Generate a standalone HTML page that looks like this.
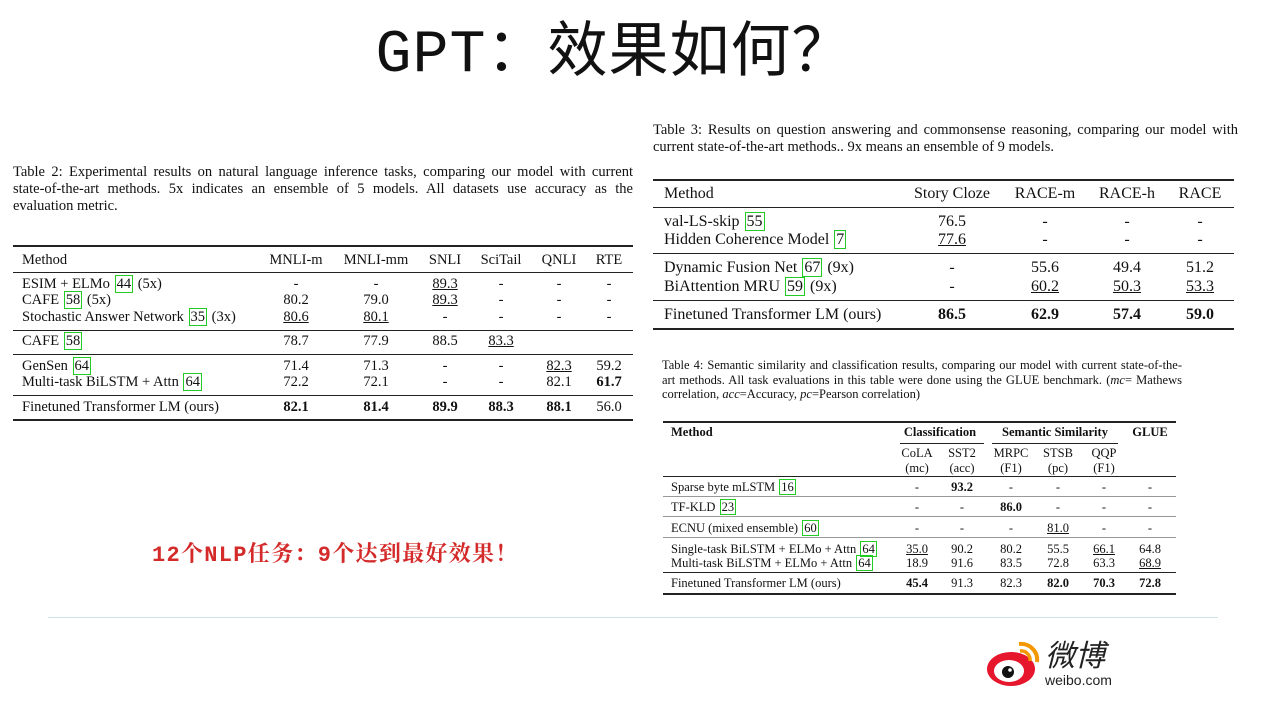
<!DOCTYPE html>
<html><head><meta charset="utf-8"><style>
body{margin:0;width:1268px;height:714px;background:#fff;position:relative;overflow:hidden;font-family:"Liberation Serif",serif;color:#111}
.t{position:absolute;white-space:nowrap;line-height:1}
.c{transform:translateX(-50%)}
.r{border:1px solid #2c2;padding:0 1px;margin:0 1px}
.rule{position:absolute;background:#222}
.s2{font-size:14.5px}.s3{font-size:16px}.s4{font-size:12.5px}
.j{text-align:justify;text-align-last:justify;white-space:nowrap}
b{font-weight:bold}
u{text-decoration:underline}
</style></head><body>
<div class="t c" style="left:614px;top:26px;font-size:60px;font-family:'Liberation Mono','Noto Sans CJK SC',monospace;letter-spacing:1px">GPT：效果如何？</div>

<!-- Table 2 -->
<div>
<div class="t s2" style="left:13px;top:164px;line-height:17px;width:620px;white-space:normal">
<div class="j">Table 2: Experimental results on natural language inference tasks, comparing our model with current</div>
<div class="j">state-of-the-art methods. 5x indicates an ensemble of 5 models. All datasets use accuracy as the</div>
<div>evaluation metric.</div></div>
<div class="rule" style="left:13px;top:245px;width:620px;height:2px"></div>
<div class="rule" style="left:13px;top:272px;width:620px;height:1px"></div>
<div class="rule" style="left:13px;top:330px;width:620px;height:1px"></div>
<div class="rule" style="left:13px;top:354px;width:620px;height:1px"></div>
<div class="rule" style="left:13px;top:395px;width:620px;height:1px"></div>
<div class="rule" style="left:13px;top:419px;width:620px;height:2px"></div>
<div class="t s2" style="left:22px;top:253px">Method</div>
<div class="t s2 c" style="left:296px;top:253px">MNLI-m</div>
<div class="t s2 c" style="left:376px;top:253px">MNLI-mm</div>
<div class="t s2 c" style="left:445px;top:253px">SNLI</div>
<div class="t s2 c" style="left:501px;top:253px">SciTail</div>
<div class="t s2 c" style="left:559px;top:253px">QNLI</div>
<div class="t s2 c" style="left:609px;top:253px">RTE</div>

<div class="t s2" style="left:22px;top:277px">ESIM + ELMo <span class="r">44</span> (5x)</div>
<div class="t s2 c" style="left:296px;top:277px">-</div><div class="t s2 c" style="left:376px;top:277px">-</div><div class="t s2 c" style="left:445px;top:277px"><u>89.3</u></div><div class="t s2 c" style="left:501px;top:277px">-</div><div class="t s2 c" style="left:559px;top:277px">-</div><div class="t s2 c" style="left:609px;top:277px">-</div>
<div class="t s2" style="left:22px;top:293px">CAFE <span class="r">58</span> (5x)</div>
<div class="t s2 c" style="left:296px;top:293px">80.2</div><div class="t s2 c" style="left:376px;top:293px">79.0</div><div class="t s2 c" style="left:445px;top:293px"><u>89.3</u></div><div class="t s2 c" style="left:501px;top:293px">-</div><div class="t s2 c" style="left:559px;top:293px">-</div><div class="t s2 c" style="left:609px;top:293px">-</div>
<div class="t s2" style="left:22px;top:310px">Stochastic Answer Network <span class="r">35</span> (3x)</div>
<div class="t s2 c" style="left:296px;top:310px"><u>80.6</u></div><div class="t s2 c" style="left:376px;top:310px"><u>80.1</u></div><div class="t s2 c" style="left:445px;top:310px">-</div><div class="t s2 c" style="left:501px;top:310px">-</div><div class="t s2 c" style="left:559px;top:310px">-</div><div class="t s2 c" style="left:609px;top:310px">-</div>
<div class="t s2" style="left:22px;top:334px">CAFE <span class="r">58</span></div>
<div class="t s2 c" style="left:296px;top:334px">78.7</div><div class="t s2 c" style="left:376px;top:334px">77.9</div><div class="t s2 c" style="left:445px;top:334px">88.5</div><div class="t s2 c" style="left:501px;top:334px"><u>83.3</u></div>
<div class="t s2" style="left:22px;top:359px">GenSen <span class="r">64</span></div>
<div class="t s2 c" style="left:296px;top:359px">71.4</div><div class="t s2 c" style="left:376px;top:359px">71.3</div><div class="t s2 c" style="left:445px;top:359px">-</div><div class="t s2 c" style="left:501px;top:359px">-</div><div class="t s2 c" style="left:559px;top:359px"><u>82.3</u></div><div class="t s2 c" style="left:609px;top:359px">59.2</div>
<div class="t s2" style="left:22px;top:375px">Multi-task BiLSTM + Attn <span class="r">64</span></div>
<div class="t s2 c" style="left:296px;top:375px">72.2</div><div class="t s2 c" style="left:376px;top:375px">72.1</div><div class="t s2 c" style="left:445px;top:375px">-</div><div class="t s2 c" style="left:501px;top:375px">-</div><div class="t s2 c" style="left:559px;top:375px">82.1</div><div class="t s2 c" style="left:609px;top:375px"><b>61.7</b></div>
<div class="t s2" style="left:22px;top:400px">Finetuned Transformer LM (ours)</div>
<div class="t s2 c" style="left:296px;top:400px"><b>82.1</b></div><div class="t s2 c" style="left:376px;top:400px"><b>81.4</b></div><div class="t s2 c" style="left:445px;top:400px"><b>89.9</b></div><div class="t s2 c" style="left:501px;top:400px"><b>88.3</b></div><div class="t s2 c" style="left:559px;top:400px"><b>88.1</b></div><div class="t s2 c" style="left:609px;top:400px">56.0</div>
</div>

<!-- Table 3 -->
<div>
<div class="t s2" style="left:653px;top:122px;line-height:17px;width:585px;white-space:normal">
<div class="j">Table 3: Results on question answering and commonsense reasoning, comparing our model with</div>
<div>current state-of-the-art methods.. 9x means an ensemble of 9 models.</div></div>
<div class="rule" style="left:653px;top:179px;width:581px;height:2px"></div>
<div class="rule" style="left:653px;top:207px;width:581px;height:1px"></div>
<div class="rule" style="left:653px;top:253px;width:581px;height:1px"></div>
<div class="rule" style="left:653px;top:300px;width:581px;height:1px"></div>
<div class="rule" style="left:653px;top:328px;width:581px;height:2px"></div>
<div class="t s3" style="left:664px;top:186px">Method</div>
<div class="t s3 c" style="left:952px;top:186px">Story Cloze</div>
<div class="t s3 c" style="left:1045px;top:186px">RACE-m</div>
<div class="t s3 c" style="left:1127px;top:186px">RACE-h</div>
<div class="t s3 c" style="left:1200px;top:186px">RACE</div>
<div class="t s3" style="left:664px;top:214px">val-LS-skip <span class="r">55</span></div>
<div class="t s3 c" style="left:952px;top:214px">76.5</div><div class="t s3 c" style="left:1045px;top:214px">-</div><div class="t s3 c" style="left:1127px;top:214px">-</div><div class="t s3 c" style="left:1200px;top:214px">-</div>
<div class="t s3" style="left:664px;top:232px">Hidden Coherence Model <span class="r">7</span></div>
<div class="t s3 c" style="left:952px;top:232px"><u>77.6</u></div><div class="t s3 c" style="left:1045px;top:232px">-</div><div class="t s3 c" style="left:1127px;top:232px">-</div><div class="t s3 c" style="left:1200px;top:232px">-</div>
<div class="t s3" style="left:664px;top:260px">Dynamic Fusion Net <span class="r">67</span> (9x)</div>
<div class="t s3 c" style="left:952px;top:260px">-</div><div class="t s3 c" style="left:1045px;top:260px">55.6</div><div class="t s3 c" style="left:1127px;top:260px">49.4</div><div class="t s3 c" style="left:1200px;top:260px">51.2</div>
<div class="t s3" style="left:664px;top:279px">BiAttention MRU <span class="r">59</span> (9x)</div>
<div class="t s3 c" style="left:952px;top:279px">-</div><div class="t s3 c" style="left:1045px;top:279px"><u>60.2</u></div><div class="t s3 c" style="left:1127px;top:279px"><u>50.3</u></div><div class="t s3 c" style="left:1200px;top:279px"><u>53.3</u></div>
<div class="t s3" style="left:664px;top:307px">Finetuned Transformer LM (ours)</div>
<div class="t s3 c" style="left:952px;top:307px"><b>86.5</b></div><div class="t s3 c" style="left:1045px;top:307px"><b>62.9</b></div><div class="t s3 c" style="left:1127px;top:307px"><b>57.4</b></div><div class="t s3 c" style="left:1200px;top:307px"><b>59.0</b></div>
</div>

<!-- Table 4 -->
<div>
<div class="t s4" style="left:662px;top:358px;line-height:14.5px;width:520px;white-space:normal">
<div class="j">Table 4: Semantic similarity and classification results, comparing our model with current state-of-the-</div>
<div class="j">art methods. All task evaluations in this table were done using the GLUE benchmark. (<i>mc</i>= Mathews</div>
<div>correlation, <i>acc</i>=Accuracy, <i>pc</i>=Pearson correlation)</div></div>
<div class="rule" style="left:663px;top:421px;width:513px;height:2px"></div>
<div class="rule" style="left:900px;top:443px;width:84px;height:1px"></div>
<div class="rule" style="left:992px;top:443px;width:126px;height:1px"></div>
<div class="rule" style="left:663px;top:476px;width:513px;height:1px"></div>
<div class="rule" style="left:663px;top:496px;width:513px;height:1px;background:#999"></div>
<div class="rule" style="left:663px;top:516px;width:513px;height:1px;background:#999"></div>
<div class="rule" style="left:663px;top:537px;width:513px;height:1px;background:#999"></div>
<div class="rule" style="left:663px;top:572px;width:513px;height:1px"></div>
<div class="rule" style="left:663px;top:593px;width:513px;height:2px"></div>
<div class="t s4" style="left:671px;top:426px"><b>Method</b></div>
<div class="t s4 c" style="left:940px;top:426px"><b>Classification</b></div>
<div class="t s4 c" style="left:1055px;top:426px"><b>Semantic Similarity</b></div>
<div class="t s4 c" style="left:1150px;top:426px"><b>GLUE</b></div>
<div class="t s4 c" style="left:917px;top:446px;text-align:center;line-height:15px">CoLA<br>(mc)</div>
<div class="t s4 c" style="left:962px;top:446px;text-align:center;line-height:15px">SST2<br>(acc)</div>
<div class="t s4 c" style="left:1011px;top:446px;text-align:center;line-height:15px">MRPC<br>(F1)</div>
<div class="t s4 c" style="left:1058px;top:446px;text-align:center;line-height:15px">STSB<br>(pc)</div>
<div class="t s4 c" style="left:1104px;top:446px;text-align:center;line-height:15px">QQP<br>(F1)</div>

<div class="t s4" style="left:671px;top:481px">Sparse byte mLSTM <span class="r">16</span></div>
<div class="t s4 c" style="left:917px;top:481px">-</div><div class="t s4 c" style="left:962px;top:481px"><b>93.2</b></div><div class="t s4 c" style="left:1011px;top:481px">-</div><div class="t s4 c" style="left:1058px;top:481px">-</div><div class="t s4 c" style="left:1104px;top:481px">-</div><div class="t s4 c" style="left:1150px;top:481px">-</div>
<div class="t s4" style="left:671px;top:501px">TF-KLD <span class="r">23</span></div>
<div class="t s4 c" style="left:917px;top:501px">-</div><div class="t s4 c" style="left:962px;top:501px">-</div><div class="t s4 c" style="left:1011px;top:501px"><b>86.0</b></div><div class="t s4 c" style="left:1058px;top:501px">-</div><div class="t s4 c" style="left:1104px;top:501px">-</div><div class="t s4 c" style="left:1150px;top:501px">-</div>
<div class="t s4" style="left:671px;top:522px">ECNU (mixed ensemble) <span class="r">60</span></div>
<div class="t s4 c" style="left:917px;top:522px">-</div><div class="t s4 c" style="left:962px;top:522px">-</div><div class="t s4 c" style="left:1011px;top:522px">-</div><div class="t s4 c" style="left:1058px;top:522px"><u>81.0</u></div><div class="t s4 c" style="left:1104px;top:522px">-</div><div class="t s4 c" style="left:1150px;top:522px">-</div>
<div class="t s4" style="left:671px;top:543px">Single-task BiLSTM + ELMo + Attn <span class="r">64</span></div>
<div class="t s4 c" style="left:917px;top:543px"><u>35.0</u></div><div class="t s4 c" style="left:962px;top:543px">90.2</div><div class="t s4 c" style="left:1011px;top:543px">80.2</div><div class="t s4 c" style="left:1058px;top:543px">55.5</div><div class="t s4 c" style="left:1104px;top:543px"><u>66.1</u></div><div class="t s4 c" style="left:1150px;top:543px">64.8</div>
<div class="t s4" style="left:671px;top:557px">Multi-task BiLSTM + ELMo + Attn <span class="r">64</span></div>
<div class="t s4 c" style="left:917px;top:557px">18.9</div><div class="t s4 c" style="left:962px;top:557px">91.6</div><div class="t s4 c" style="left:1011px;top:557px">83.5</div><div class="t s4 c" style="left:1058px;top:557px">72.8</div><div class="t s4 c" style="left:1104px;top:557px">63.3</div><div class="t s4 c" style="left:1150px;top:557px"><u>68.9</u></div>
<div class="t s4" style="left:671px;top:577px">Finetuned Transformer LM (ours)</div>
<div class="t s4 c" style="left:917px;top:577px"><b>45.4</b></div><div class="t s4 c" style="left:962px;top:577px">91.3</div><div class="t s4 c" style="left:1011px;top:577px">82.3</div><div class="t s4 c" style="left:1058px;top:577px"><b>82.0</b></div><div class="t s4 c" style="left:1104px;top:577px"><b>70.3</b></div><div class="t s4 c" style="left:1150px;top:577px"><b>72.8</b></div>
</div>

<div class="t" style="left:152px;top:545px;font-size:22px;letter-spacing:1.3px;color:#d42a2a;font-family:'Liberation Mono','Noto Serif CJK SC',monospace;font-weight:bold">12个NLP任务：9个达到最好效果！</div>
<div class="rule" style="left:48px;top:617px;width:1170px;height:1px;background:#cfe3ea"></div>

<div style="position:absolute;left:985px;top:636px;width:140px;height:54px">
<svg width="60" height="54" style="position:absolute;left:0;top:0">
<ellipse cx="26" cy="33" rx="24" ry="17" fill="#e6162d"/>
<ellipse cx="24" cy="35" rx="15" ry="11" fill="#fff"/>
<circle cx="23" cy="36" r="6" fill="#111"/>
<circle cx="25" cy="34" r="1.8" fill="#fff"/>
<path d="M34 8 A16 16 0 0 1 52 26" stroke="#f39800" stroke-width="4" fill="none"/>
<path d="M35 15 A9 9 0 0 1 45 25" stroke="#f39800" stroke-width="3.5" fill="none"/>
</svg>
<div class="t" style="left:60px;top:2px;font-size:30px;font-family:'Noto Sans CJK SC',sans-serif;color:#222;font-style:italic">微博</div>
<div class="t" style="left:60px;top:37px;font-size:14px;font-family:'Liberation Sans',sans-serif;color:#222">weibo.com</div>
</div>
</body></html>
